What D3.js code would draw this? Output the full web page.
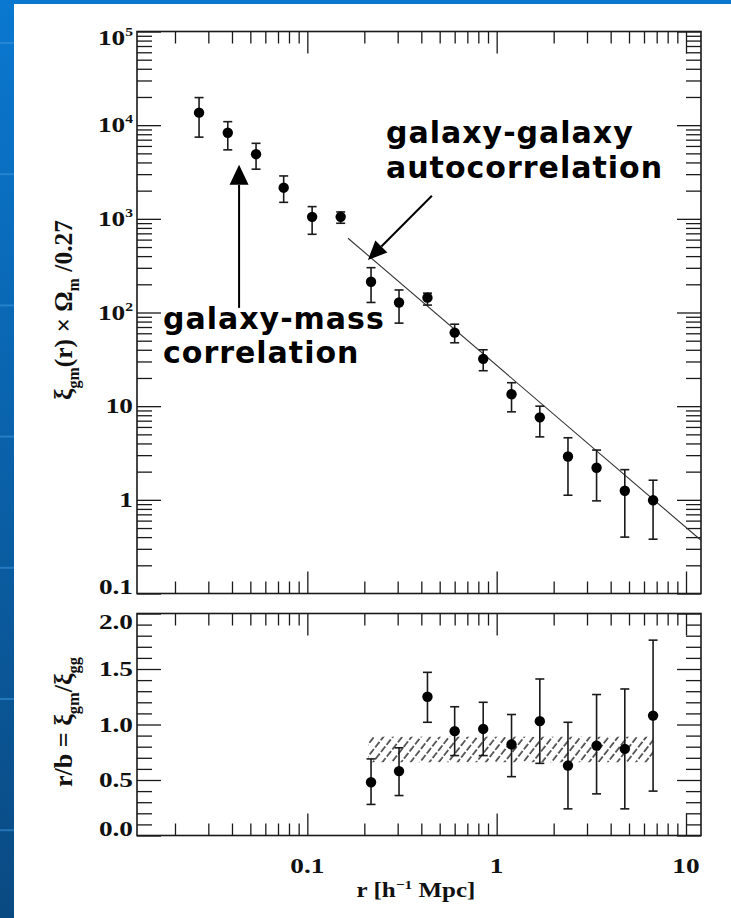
<!DOCTYPE html>
<html><head><meta charset="utf-8">
<script src="https://cdn.jsdelivr.net/npm/d3@7"></script>
<style>html,body{margin:0;padding:0;overflow:hidden;background:#fff}</style>
</head><body>
<script>
// ---------- data ----------
const rValues   = [0.0268, 0.038, 0.0536, 0.075, 0.106, 0.150, 0.217, 0.305, 0.431, 0.600, 0.849, 1.198, 1.69, 2.38, 3.37, 4.75, 6.70];
const xiGM      = [13600, 8300, 4900, 2150, 1050, 1050, 213, 128, 144, 61, 32, 13.4, 7.6, 2.9, 2.2, 1.25, 0.99];
const xiGMHigh  = [19700, 10900, 6400, 2870, 1350, 1185, 301, 174, 161, 75, 40, 17.8, 10.0, 4.6, 3.4, 2.1, 1.62];
const xiGMLow   = [7450, 5450, 3390, 1500, 684, 897, 128, 77, 120, 47.5, 23.9, 8.7, 4.7, 1.12, 0.975, 0.40, 0.38];

const biasR     = [0.217, 0.305, 0.431, 0.600, 0.849, 1.198, 1.69, 2.38, 3.37, 4.75, 6.70];
const biasVal   = [0.48, 0.58, 1.25, 0.94, 0.96, 0.82, 1.03, 0.63, 0.81, 0.78, 1.08];
const biasHigh  = [0.69, 0.79, 1.47, 1.16, 1.20, 1.09, 1.41, 1.02, 1.27, 1.32, 1.76];
const biasLow   = [0.28, 0.36, 1.02, 0.72, 0.72, 0.53, 0.65, 0.24, 0.375, 0.24, 0.40];

const fitR      = [0.164, 12];
const fitXi     = [621, 0.37];

const bandR     = [0.21, 6.7];
const bandB     = [0.66, 0.89];

const xTickValues   = [0.1, 1, 10];
const xTickLabels   = ["0.1", "1", "10"];
const yTopExponents = [-1, 0, 1, 2, 3, 4, 5];
const yTopLabels    = ["0.1", "1", "10", "10|2", "10|3", "10|4", "10|5"];
const yBotTicks     = [0, 0.5, 1.0, 1.5, 2.0];
const yBotLabels    = ["0.0", "0.5", "1.0", "1.5", "2.0"];

// annotation anchors in data space
const annoGG = {tail: [0.455, 1762], tip: [0.209, 364]};
const annoGM = {tail: [0.0436, 112], tip: [0.0436, 3770]};

// ---------- layout ----------
const W = 731, H = 918;
const L = 137, R = 701;
const topT = 31.5, topB = 593.5, botT = 613.5, botB = 835.5;
const STRETCH = 1.3;
const serif = "'Liberation Serif','DejaVu Serif',serif";
const sans = "'DejaVu Sans','Verdana',sans-serif";
const ink = "#1a1a1a";

const x = d3.scaleLog().domain([0.0126, 12]).range([L, R]);
const yT = d3.scaleLog().domain([0.1, 1e5]).range([topB, topT]);
const yB = d3.scaleLinear().domain([0, 2]).range([botB, botT]);

const svg = d3.select("body").append("svg").attr("width", W).attr("height", H);
const defs = svg.append("defs");
const grad = defs.append("linearGradient").attr("id", "bg").attr("x1", 0).attr("y1", 0).attr("x2", 0).attr("y2", 1);
grad.append("stop").attr("offset", "0%").attr("stop-color", "#0a78d0");
grad.append("stop").attr("offset", "100%").attr("stop-color", "#0a4a82");
const pat = defs.append("pattern").attr("id", "hatch").attr("patternUnits", "userSpaceOnUse")
  .attr("width", 7.4).attr("height", 9).attr("patternTransform", "rotate(38)");
pat.append("line").attr("x1", 1).attr("y1", 0).attr("x2", 1).attr("y2", 9)
  .attr("stroke", "#111").attr("stroke-width", 1.3).attr("stroke-dasharray", "7 2");

svg.append("rect").attr("width", W).attr("height", H).attr("fill", "url(#bg)");
// faint decorative bands on slide background
svg.selectAll("rect.band").data(d3.range(7)).join("rect")
  .attr("x", 0).attr("y", d => 42 + d * 131.2).attr("width", 14).attr("height", 2)
  .attr("fill", "#3d95dc").attr("opacity", 0.55);
svg.append("rect").attr("x", 14).attr("y", 4).attr("width", W - 14).attr("height", H - 4).attr("fill", "#fff");

// ---------- helpers ----------
function minorLog(lo, hi) {
  const out = [];
  for (let e = Math.floor(Math.log10(lo)); e <= Math.ceil(Math.log10(hi)); e++)
    for (let k = 2; k <= 9; k++) { const v = k * Math.pow(10, e); if (v > lo && v < hi) out.push(v); }
  return out;
}
function drawAxis(axisGen, scale, values, size, transform) {
  const g = svg.append("g").attr("transform", transform)
    .call(axisGen(scale).tickValues(values).tickSize(-size).tickSizeOuter(0).tickFormat(""));
  g.select(".domain").remove();
  g.selectAll("line").attr("stroke", ink).attr("stroke-width", 1.3);
  return g;
}
function stretchedText(px, py, anchor, build, size) {
  const g = svg.append("g").attr("transform", `translate(${px},${py}) scale(${STRETCH},1)`);
  const t = g.append("text").attr("text-anchor", anchor).attr("font-family", serif)
    .attr("font-weight", "bold").attr("font-size", size || 21).attr("fill", "#111");
  build(t);
  return t;
}
const clamp = (v, lo, hi) => Math.max(lo, Math.min(hi, v));

const xMajor = xTickValues;
const xMinor = minorLog(0.0126, 12);
const yTopMajor = yTopExponents.map(e => Math.pow(10, e));
const yTopMinor = minorLog(0.1, 1e5);
const yBotMinor = d3.range(1, 20).map(i => i / 10).filter(v => Math.abs(v * 2 - Math.round(v * 2)) > 1e-6);

// ---------- top panel axes ----------
drawAxis(d3.axisTop, x, xMajor, 22, `translate(0,${topT})`);
drawAxis(d3.axisTop, x, xMinor, 12, `translate(0,${topT})`);
drawAxis(d3.axisBottom, x, xMajor, 22, `translate(0,${topB})`);
drawAxis(d3.axisBottom, x, xMinor, 12, `translate(0,${topB})`);
drawAxis(d3.axisLeft, yT, yTopMajor, 24, `translate(${L},0)`);
drawAxis(d3.axisLeft, yT, yTopMinor, 15, `translate(${L},0)`);
drawAxis(d3.axisRight, yT, yTopMajor, 24, `translate(${R},0)`);
drawAxis(d3.axisRight, yT, yTopMinor, 15, `translate(${R},0)`);
svg.append("rect").attr("x", L).attr("y", topT).attr("width", R - L).attr("height", topB - topT)
  .attr("fill", "none").attr("stroke", ink).attr("stroke-width", 1.6);

// ---------- bottom panel axes ----------
drawAxis(d3.axisTop, x, xMajor, 22, `translate(0,${botT})`);
drawAxis(d3.axisTop, x, xMinor, 12, `translate(0,${botT})`);
drawAxis(d3.axisBottom, x, xMajor, 22, `translate(0,${botB})`);
drawAxis(d3.axisBottom, x, xMinor, 12, `translate(0,${botB})`);
drawAxis(d3.axisLeft, yB, yBotTicks, 24, `translate(${L},0)`);
drawAxis(d3.axisLeft, yB, yBotMinor, 15, `translate(${L},0)`);
drawAxis(d3.axisRight, yB, yBotTicks, 24, `translate(${R},0)`);
drawAxis(d3.axisRight, yB, yBotMinor, 15, `translate(${R},0)`);
svg.append("rect").attr("x", L).attr("y", botT).attr("width", R - L).attr("height", botB - botT)
  .attr("fill", "none").attr("stroke", ink).attr("stroke-width", 1.6);

// ---------- tick labels ----------
yTopMajor.forEach((v, i) => {
  const parts = yTopLabels[i].split("|");
  stretchedText(L - 4, clamp(yT(v) + 7, topT + 13, topB), "end", t => {
    t.append("tspan").text(parts[0]);
    if (parts[1]) t.append("tspan").attr("font-size", 12).attr("dy", -9).text(parts[1]);
  });
});
yBotTicks.forEach((v, i) => {
  stretchedText(L - 4, clamp(yB(v) + 7, botT + 15, botB), "end", t => t.text(yBotLabels[i]));
});
xMajor.forEach((v, i) => {
  stretchedText(x(v), 873, "middle", t => t.text(xTickLabels[i]));
});

// titles scaled to the measured extents of the reference
function fittedTitle(cx, cy, targetLen, rotate, build, size) {
  const g = svg.append("g");
  const t = g.append("text").attr("text-anchor", "middle").attr("font-family", serif)
    .attr("font-weight", "bold").attr("font-size", size || 19).attr("fill", "#111");
  build(t);
  const w = t.node().getComputedTextLength();
  const s = targetLen / w;
  g.attr("transform", rotate
    ? `translate(${cx},${cy}) rotate(-90) scale(${s},${STRETCH * 1.05})`
    : `translate(${cx},${cy}) scale(${s},1)`);
}
fittedTitle(416, 897, 119, false, t => {
  t.append("tspan").text("r [h");
  t.append("tspan").attr("font-size", 13).attr("dy", -8).text("−1");
  t.append("tspan").attr("dy", 8).text(" Mpc]");
}, 21);
fittedTitle(72, 310, 180, true, t => {
  t.append("tspan").text("ξ");
  t.append("tspan").attr("font-size", 12).attr("dy", 5).text("gm");
  t.append("tspan").attr("dy", -5).text("(r) × Ω");
  t.append("tspan").attr("font-size", 12).attr("dy", 5).text("m");
  t.append("tspan").attr("dy", -5).text(" /0.27");
});
fittedTitle(72, 722, 130, true, t => {
  t.append("tspan").text("r/b = ξ");
  t.append("tspan").attr("font-size", 12).attr("dy", 5).text("gm");
  t.append("tspan").attr("dy", -5).text("/ξ");
  t.append("tspan").attr("font-size", 12).attr("dy", 5).text("gg");
});

// ---------- top panel data ----------
const fitLine = d3.line().x(d => x(d[0])).y(d => yT(d[1]));
svg.append("path").datum(d3.zip(fitR, fitXi)).attr("d", fitLine)
  .attr("fill", "none").attr("stroke", "#333").attr("stroke-width", 1.1);

const topPts = rValues.map((r, i) => ({r, v: xiGM[i], hi: xiGMHigh[i], lo: xiGMLow[i]}));
const gTop = svg.append("g");
gTop.selectAll("line.eb").data(topPts).join("line")
  .attr("x1", d => x(d.r)).attr("x2", d => x(d.r)).attr("y1", d => yT(d.hi)).attr("y2", d => yT(d.lo))
  .attr("stroke", ink).attr("stroke-width", 1.6);
["hi", "lo"].forEach(k => {
  gTop.selectAll("line.cap" + k).data(topPts).join("line")
    .attr("x1", d => x(d.r) - 4.5).attr("x2", d => x(d.r) + 4.5).attr("y1", d => yT(d[k])).attr("y2", d => yT(d[k]))
    .attr("stroke", ink).attr("stroke-width", 1.6);
});
gTop.selectAll("circle").data(topPts).join("circle")
  .attr("cx", d => x(d.r)).attr("cy", d => yT(d.v)).attr("r", 5.2).attr("fill", "#000");

// ---------- bottom panel data ----------
svg.append("rect").attr("x", x(bandR[0])).attr("y", yB(bandB[1]))
  .attr("width", x(bandR[1]) - x(bandR[0])).attr("height", yB(bandB[0]) - yB(bandB[1]))
  .attr("fill", "url(#hatch)");

const botPts = biasR.map((r, i) => ({r, v: biasVal[i], hi: biasHigh[i], lo: biasLow[i]}));
const gBot = svg.append("g");
gBot.selectAll("line.eb").data(botPts).join("line")
  .attr("x1", d => x(d.r)).attr("x2", d => x(d.r)).attr("y1", d => yB(d.hi)).attr("y2", d => yB(d.lo))
  .attr("stroke", ink).attr("stroke-width", 1.6);
["hi", "lo"].forEach(k => {
  gBot.selectAll("line.cap" + k).data(botPts).join("line")
    .attr("x1", d => x(d.r) - 4.5).attr("x2", d => x(d.r) + 4.5).attr("y1", d => yB(d[k])).attr("y2", d => yB(d[k]))
    .attr("stroke", ink).attr("stroke-width", 1.6);
});
gBot.selectAll("circle").data(botPts).join("circle")
  .attr("cx", d => x(d.r)).attr("cy", d => yB(d.v)).attr("r", 5.2).attr("fill", "#000");

// ---------- annotations ----------
function arrow(a, headLen, headW) {
  const x0 = x(a.tail[0]), y0 = yT(a.tail[1]), x1 = x(a.tip[0]), y1 = yT(a.tip[1]);
  const ang = Math.atan2(y1 - y0, x1 - x0);
  const bx = x1 - headLen * Math.cos(ang), by = y1 - headLen * Math.sin(ang);
  svg.append("line").attr("x1", x0).attr("y1", y0).attr("x2", bx).attr("y2", by)
    .attr("stroke", "#000").attr("stroke-width", 2);
  const px = -Math.sin(ang) * headW / 2, py = Math.cos(ang) * headW / 2;
  svg.append("path").attr("d", `M${x1},${y1}L${bx + px},${by + py}L${bx - px},${by - py}Z`).attr("fill", "#000");
}
arrow(annoGG, 19, 17);
arrow(annoGM, 20, 19);

const anno = svg.append("g").attr("font-family", sans).attr("font-weight", "bold").attr("font-size", 30)
  .attr("letter-spacing", 1).attr("fill", "#000");
anno.append("text").attr("x", 386).attr("y", 143).text("galaxy-galaxy");
anno.append("text").attr("x", 386).attr("y", 178).text("autocorrelation");
anno.append("text").attr("x", 163).attr("y", 329).text("galaxy-mass");
anno.append("text").attr("x", 163).attr("y", 363).text("correlation");
</script>
</body></html>
